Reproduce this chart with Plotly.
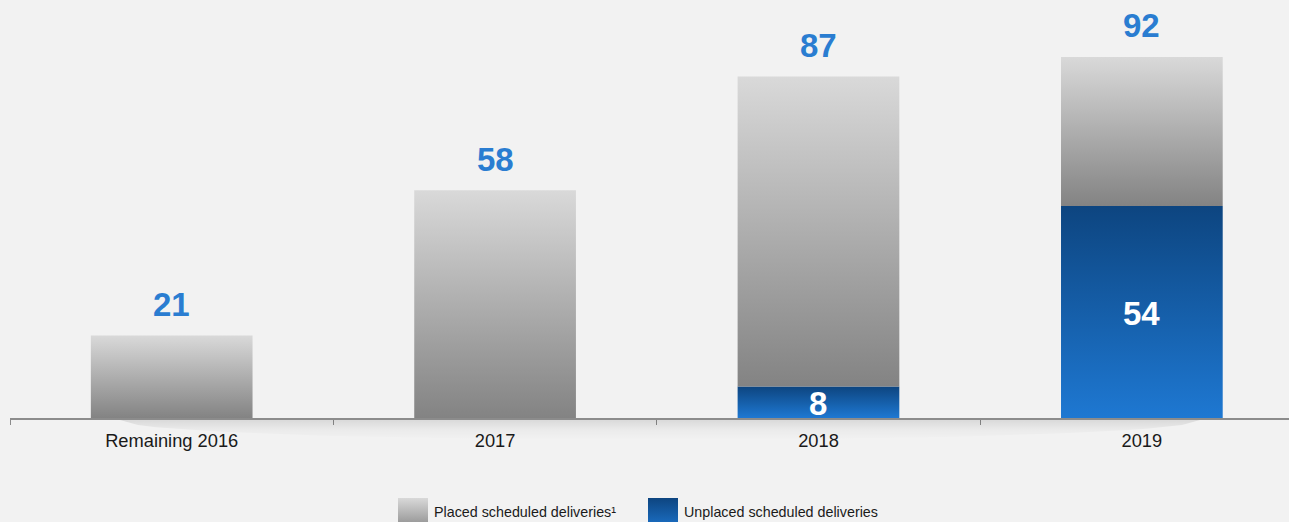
import plotly.graph_objects as go

# Scheduled deliveries per period
categories = ["Remaining 2016", "2017", "2018", "2019"]
placed = [21, 58, 79, 38]
unplaced = [0, 0, 8, 54]
legend_labels = ["Placed scheduled deliveries¹", "Unplaced scheduled deliveries"]

W, H = 1289, 522
FONT = "Arial, 'Liberation Sans', sans-serif"
BG = "#f2f2f2"
GRAY = ("#838383", "#d9d9d9")   # bottom, top
BLUE = ("#1e78d2", "#0d4580")   # bottom, top
LABEL_BLUE = "#2a7dd1"
HALF = 0.25  # half bar width in category units

totals = [p + u for p, u in zip(placed, unplaced)]

fig = go.Figure()


def gradient_block(x0, x1, y0, y1, colors, xaxis="x", yaxis="y"):
    fig.add_trace(go.Scatter(
        x=[x0, x1, x1, x0, x0], y=[y0, y0, y1, y1, y0],
        mode="lines", fill="toself", line=dict(width=0),
        fillcolor=colors[0],
        fillgradient=dict(type="vertical",
                          colorscale=[[0, colors[0]], [1, colors[1]]]),
        hoverinfo="skip", showlegend=False, xaxis=xaxis, yaxis=yaxis,
    ))


# stacked bars: unplaced at the base, placed on top
for i, (p, u) in enumerate(zip(placed, unplaced)):
    if u > 0:
        gradient_block(i - HALF, i + HALF, 0, u, BLUE)
    if p > 0:
        gradient_block(i - HALF, i + HALF, u, u + p, GRAY)

# soft shadow under the baseline (overlay in page pixels, y up)
cx, rx, depth = 660, 540, 20
sx, sy = [], []
n = 60
for k in range(n + 1):
    px = cx - rx + 2 * rx * k / n
    t = (px - cx) / rx
    sx.append(px)
    sy.append(H - (420 + depth * max(0.0, 1 - t * t) ** 0.5))
sx += [cx + rx, cx - rx]
sy += [H - 420, H - 420]
fig.add_trace(go.Scatter(
    x=sx, y=sy, mode="lines", fill="toself", line=dict(width=0),
    fillcolor="rgba(0,0,0,0.04)",
    fillgradient=dict(type="vertical",
                      colorscale=[[0, "rgba(0,0,0,0)"], [0.5, "rgba(0,0,0,0.03)"],
                                  [1, "rgba(0,0,0,0.10)"]]),
    hoverinfo="skip", showlegend=False, xaxis="x2", yaxis="y2",
))

# legend swatches
swatches = [(398, 428, GRAY), (648, 678, BLUE)]
for x0, x1, cols in swatches:
    gradient_block(x0, x1, H - 532, H - 498, cols, xaxis="x2", yaxis="y2")

annotations = []
# totals above each bar
for i, t in enumerate(totals):
    annotations.append(dict(
        x=i, y=t, xref="x", yref="y", text=f"<b>{t}</b>", showarrow=False,
        yanchor="middle", yshift=31,
        font=dict(family=FONT, size=33, color=LABEL_BLUE),
    ))
# unplaced counts inside the blue segments
for i, u in enumerate(unplaced):
    if u > 0:
        annotations.append(dict(
            x=i, y=u / 2, xref="x", yref="y", text=f"<b>{u}</b>",
            showarrow=False, yanchor="middle", yshift=-1,
            font=dict(family=FONT, size=33, color="white"),
        ))
# legend text
for (x0, x1, _), label in zip(swatches, legend_labels):
    annotations.append(dict(
        x=(x1 + 4) / W, y=1 - 512 / H, xref="paper", yref="paper",
        text=label, showarrow=False, xanchor="left", yanchor="middle",
        font=dict(family=FONT, size=14.3, color="#1a1a1a"),
    ))

fig.update_layout(
    width=W, height=H,
    margin=dict(l=0, r=0, t=0, b=0),
    paper_bgcolor=BG, plot_bgcolor="rgba(0,0,0,0)",
    showlegend=False,
    annotations=annotations,
    xaxis=dict(
        domain=[10 / W, 1], range=[-0.5, 3.455], automargin=False,
        tickmode="array", tickvals=list(range(len(categories))),
        ticktext=categories, ticks="", showgrid=False, zeroline=False,
        showline=True, linecolor="#8c8c8c", linewidth=2,
        ticklabelstandoff=5,
        tickfont=dict(family=FONT, size=18.3, color="#1a1a1a"),
        minor=dict(tick0=-0.5, dtick=1, ticks="outside", ticklen=5,
                   tickwidth=1, tickcolor="#8c8c8c", showgrid=False),
        fixedrange=True,
    ),
    yaxis=dict(
        domain=[104 / H, 1], range=[0, 106.5], automargin=False,
        showgrid=False, zeroline=False, showticklabels=False,
        showline=False, ticks="", fixedrange=True,
    ),
    xaxis2=dict(domain=[0, 1], range=[0, W], visible=False,
                anchor="y2", fixedrange=True),
    yaxis2=dict(domain=[0, 1], range=[0, H], visible=False,
                anchor="x2", fixedrange=True),
)

fig.write_html("out.html")
